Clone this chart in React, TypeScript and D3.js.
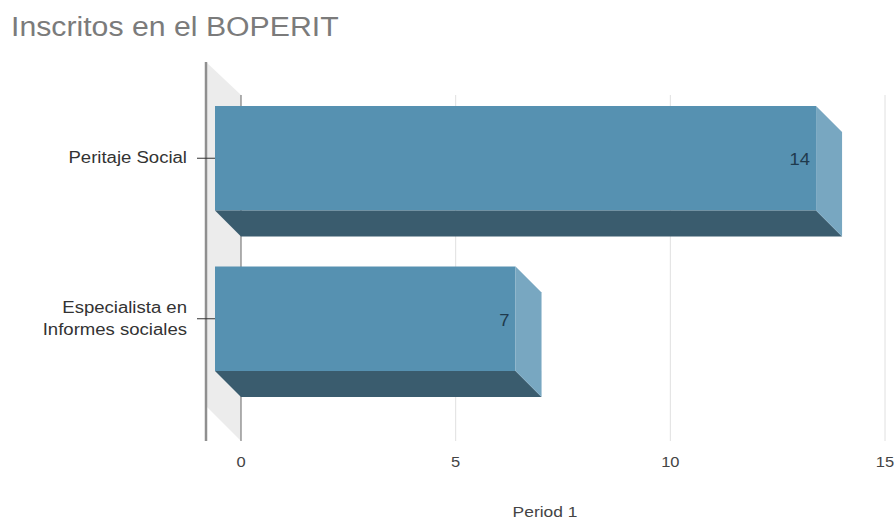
import * as d3 from 'd3'

const categories = [['Peritaje Social'], ['Especialista en', 'Informes sociales']]
const values = [14, 7]
const ticks = [0, 5, 10, 15]

const width = 895
const height = 523
const depth = 26
const top = 95
const bottom = 441

const x = d3.scaleLinear().domain([0, 15]).range([241, 885])
const y = d3.scaleBand<number>().domain([0, 1]).range([106, 371]).paddingInner(0.349).paddingOuter(0)
const font = 'Arial, "Liberation Sans", sans-serif'

function poly(pts: [number, number][]) {
  return d3.line()(pts) + 'Z'
}

// the original picture is stretched sideways, so text gets a horizontal scale too
function Label({ x, y, size, stretch, anchor, fill, text }: { x: number, y: number, size: number, stretch: number, anchor: string, fill: string, text: string | number }) {
  return (
    <text transform={`translate(${x},${y}) scale(${stretch},1)`} fontSize={size} textAnchor={anchor} fill={fill}>
      {text}
    </text>
  )
}

export default function App() {
  const h = y.bandwidth()
  return (
    <svg
      width={width}
      height={height}
      style={{ position: 'absolute', left: 0, top: 0, background: '#fff', fontFamily: font }}
    >
      <Label x={11} y={36} size={27} stretch={1.12} anchor="start" fill="#7b7b7b" text="Inscritos en el BOPERIT" />

      {/* back wall */}
      <path d={poly([[206, 62], [241, top], [241, bottom], [206, 406]])} fill="#ececec" />
      {ticks.slice(1).map(t => (
        <line key={t} x1={x(t)} x2={x(t)} y1={top} y2={bottom} stroke="#e0e0e0" strokeWidth={1} />
      ))}
      <line x1={x(0)} x2={x(0)} y1={top} y2={bottom} stroke="#666" strokeWidth={1} />
      <line x1={206} x2={206} y1={62} y2={441} stroke="#8f8f8f" strokeWidth={2.5} />

      {values.map((v, i) => {
        const y0 = y(i) as number
        const x0 = x(0) - depth
        const x1 = x(v) - depth
        const mid = y0 + h / 2
        const lines = categories[i]
        return (
          <g key={i}>
            <rect x={x0} y={y0} width={x1 - x0} height={h} fill="#5691b1" />
            <path d={poly([[x0, y0 + h], [x1, y0 + h], [x1 + depth, y0 + h + depth], [x0 + depth, y0 + h + depth]])} fill="#3a5c6e" />
            <path d={poly([[x1, y0], [x1 + depth, y0 + depth], [x1 + depth, y0 + h + depth], [x1, y0 + h]])} fill="#78a7c1" />
            <Label x={x1 - 6} y={mid + 7} size={16} stretch={1.15} anchor="end" fill="#1f3a4d" text={v} />
            <line x1={197} x2={215} y1={mid} y2={mid} stroke="#333" strokeWidth={1} />
            {lines.map((line, j) => (
              <Label
                key={j}
                x={187}
                y={mid + 5 + (j - (lines.length - 1) / 2) * 22}
                size={16}
                stretch={1.16}
                anchor="end"
                fill="#333"
                text={line}
              />
            ))}
          </g>
        )
      })}

      {ticks.map(t => (
        <Label key={t} x={x(t)} y={467} size={15} stretch={1.1} anchor="middle" fill="#444" text={t} />
      ))}
      <Label x={545} y={517} size={15} stretch={1.16} anchor="middle" fill="#444" text="Period 1" />
    </svg>
  )
}
